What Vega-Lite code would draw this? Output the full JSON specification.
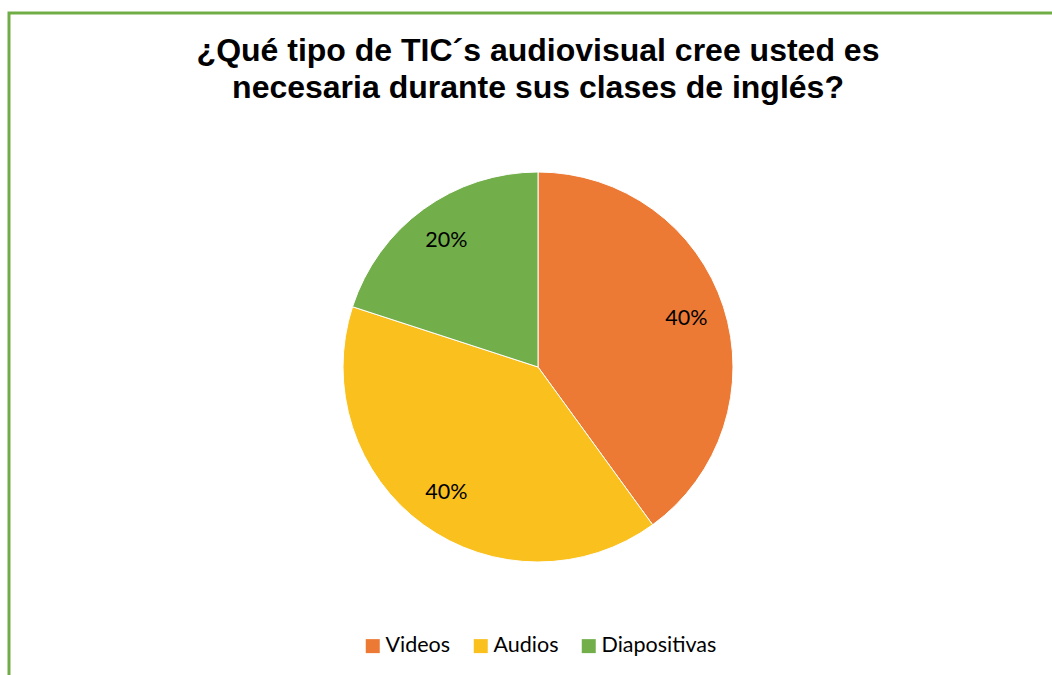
{
  "$schema": "https://vega.github.io/schema/vega-lite/v6.json",
  "width": 1052,
  "height": 675,
  "autosize": {"type": "fit", "contains": "padding"},
  "padding": {"left": 9, "top": 13, "right": -15, "bottom": -46},
  "background": "white",
  "view": {"stroke": "#70ad47", "strokeWidth": 3, "fill": "white"},
  "title": {
    "text": ["¿Qué tipo de TIC´s audiovisual cree usted es", "necesaria durante sus clases de inglés?"],
    "font": "Liberation Sans",
    "fontSize": 32,
    "fontWeight": "bold",
    "color": "#000000",
    "lineHeight": 37,
    "anchor": "middle",
    "orient": "top",
    "baseline": "top",
    "offset": -92
  },
  "data": {
    "values": [
      {"tipo": "Videos", "pct": 40, "label": "40%", "i": 1},
      {"tipo": "Audios", "pct": 40, "label": "40%", "i": 2},
      {"tipo": "Diapositivas", "pct": 20, "label": "20%", "i": 3}
    ]
  },
  "encoding": {
    "theta": {"field": "pct", "type": "quantitative", "stack": true},
    "order": {"field": "i", "type": "quantitative"}
  },
  "layer": [
    {
      "mark": {"type": "arc", "outerRadius": 195, "stroke": "white", "strokeWidth": 1},
      "encoding": {
        "color": {
          "field": "tipo",
          "type": "nominal",
          "scale": {
            "domain": ["Videos", "Audios", "Diapositivas"],
            "range": ["#EC7A35", "#F9C01E", "#72AF4B"]
          },
          "legend": {
            "title": null,
            "orient": "none",
            "direction": "horizontal",
            "legendX": 353,
            "legendY": 622,
            "symbolType": "square",
            "symbolSize": 196,
            "symbolStrokeWidth": 0,
            "symbolOpacity": 1,
            "labelFont": "Lato",
            "labelFontSize": 21.5,
            "labelColor": "#000000",
            "columnPadding": 19,
            "labelOffset": 2
          }
        }
      }
    },
    {
      "mark": {"type": "text", "radius": 156, "font": "Lato", "fontSize": 21.5, "color": "#000000"},
      "encoding": {
        "text": {"field": "label", "type": "nominal"}
      }
    }
  ]
}
